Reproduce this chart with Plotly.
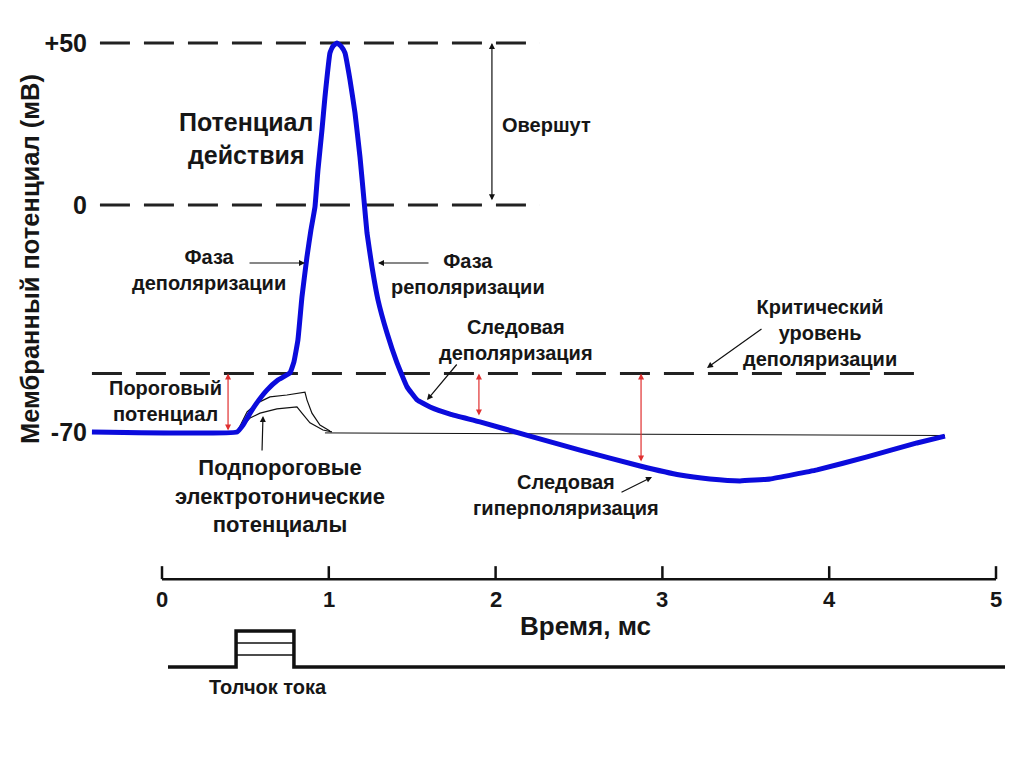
import plotly.graph_objects as go

# ---------------- data (time in ms, potential in mV) ----------------
ap_time = [-0.420, 0.450, 0.486, 0.528, 0.576, 0.629, 0.695, 0.767, 0.791, 0.815,
           0.839, 0.869, 0.893, 0.917, 0.935, 0.959, 0.977, 1.007, 1.025, 1.049,
           1.073, 1.097, 1.127, 1.157, 1.187, 1.211, 1.229, 1.259, 1.295, 1.349,
           1.409, 1.469, 1.529, 1.607, 1.727, 1.906, 2.206, 2.506, 2.866, 3.106,
           3.285, 3.465, 3.645, 3.927, 4.227, 4.526, 4.694]
ap_mv = [-70.0, -70.0, -67.9, -64.2, -60.5, -57.1, -54.0, -51.8, -48.4, -41.6,
         -28.4, -16.0, -7.7, -0.6, 10.8, 23.1, 33.3, 46.9, 49.0, 50.0,
         49.0, 46.9, 38.6, 28.4, 14.8, 1.5, -8.6, -19.1, -29.3, -39.5,
         -48.7, -56.1, -60.1, -62.3, -64.5, -66.9, -71.3, -75.6, -80.5, -83.3,
         -84.5, -85.1, -84.5, -81.7, -77.7, -73.4, -71.3]

sub_upper_time = [0.450, 0.468, 0.510, 0.570, 0.647, 0.749, 0.857, 0.869, 0.899, 0.947, 1.007]
sub_upper_mv = [-70.0, -68.2, -63.8, -61.1, -59.2, -58.6, -57.7, -60.1, -64.2, -67.9, -69.7]
sub_lower_time = [0.450, 0.468, 0.528, 0.588, 0.689, 0.809, 0.839, 0.887, 0.965, 1.019]
sub_lower_mv = [-70.0, -68.8, -65.7, -64.2, -62.9, -62.3, -64.2, -67.2, -69.4, -70.0]
rest_line_time = [0.977, 4.694]
rest_line_mv = [-70.3, -71.1]

overshoot_mv = 50
zero_mv = 0
threshold_mv = -52
rest_mv = -70
level_lines_time = [-0.372, 2.266]
threshold_line_time = [-0.420, 4.544]

ytick_vals = [50, 0, -70]
ytick_text = ["+50", "0", "-70"]
time_ticks = [0, 1, 2, 3, 4, 5]
time_axis_mv = -115.4      # where the time scale is drawn (below the trace)
time_tick_len_mv = 4.0

stim_time = [0.036, 0.444, 0.444, 0.791, 0.791, 5.054]
stim_level = [0, 0, 3, 3, 0, 0]
stim_inner_levels = [1, 2]
stim_on, stim_off = 0.444, 0.791

red_arrow_time = [0.396, 1.900, 2.872]
red_arrow_bottom = [-70.0, -65.4, -79.6]
overshoot_arrow_time = 1.978

# ---------------- geometry (window pixels -> figure) ----------------
OFF = 8                      # default page margin around the plot div
W, H = 1008, 751             # figure size
LEFT_WIN = 90                # left edge of plotting area in window pixels
LEFT = LEFT_WIN - OFF
X0_PX, PX_PER_MS = 162 - OFF, 166.8
Y0_PX, PX_PER_MV = 205 - OFF, 3.242
x_range = [(LEFT - X0_PX) / PX_PER_MS, (W - X0_PX) / PX_PER_MS]
y_range = [(Y0_PX - H) / PX_PER_MV, Y0_PX / PX_PER_MV]
STIM_BASE_PX, STIM_PX = 667 - OFF, 12
y2_range = [(STIM_BASE_PX - H) / STIM_PX, STIM_BASE_PX / STIM_PX]


def P(px, py):
    """window pixel -> paper coordinates"""
    return (px - OFF - LEFT) / (W - LEFT), 1 - (py - OFF) / H


TXT = "#161616"
FONT = "Liberation Sans"
BLUE = "#0b0bdc"
RED = "#e03030"
DASH = "30px,14px"

fig = go.Figure()

# dashed reference levels
for lvl in (overshoot_mv, zero_mv):
    fig.add_trace(go.Scatter(x=level_lines_time, y=[lvl, lvl], mode="lines",
                             line=dict(color="#222", width=3, dash=DASH),
                             hoverinfo="skip", showlegend=False))
fig.add_trace(go.Scatter(x=threshold_line_time, y=[threshold_mv, threshold_mv], mode="lines",
                         line=dict(color="#222", width=3, dash=DASH),
                         hoverinfo="skip", showlegend=False))

# thin baseline and subthreshold potentials
fig.add_trace(go.Scatter(x=rest_line_time, y=rest_line_mv, mode="lines",
                         line=dict(color="#111", width=1), hoverinfo="skip", showlegend=False))
fig.add_trace(go.Scatter(x=sub_upper_time, y=sub_upper_mv, mode="lines",
                         line=dict(color="#111", width=1.2), hoverinfo="skip", showlegend=False))
fig.add_trace(go.Scatter(x=sub_lower_time, y=sub_lower_mv, mode="lines",
                         line=dict(color="#111", width=1.2), hoverinfo="skip", showlegend=False))

# action potential
fig.add_trace(go.Scatter(x=ap_time, y=ap_mv, mode="lines",
                         line=dict(color=BLUE, width=5, shape="spline", smoothing=0.3),
                         hoverinfo="skip", showlegend=False))

# time scale: baseline + upward ticks
tx, ty = [time_ticks[0], time_ticks[-1], None], [time_axis_mv, time_axis_mv, None]
for t in time_ticks:
    tx += [t, t, None]
    ty += [time_axis_mv, time_axis_mv + time_tick_len_mv, None]
fig.add_trace(go.Scatter(x=tx, y=ty, mode="lines", line=dict(color="#111", width=2.5),
                         hoverinfo="skip", showlegend=False))

# stimulus trace
fig.add_trace(go.Scatter(x=stim_time, y=stim_level, mode="lines", yaxis="y2",
                         line=dict(color="#111", width=3.5), hoverinfo="skip", showlegend=False))
for lv in stim_inner_levels:
    fig.add_trace(go.Scatter(x=[stim_on, stim_off], y=[lv, lv], mode="lines", yaxis="y2",
                             line=dict(color="#111", width=1.5), hoverinfo="skip", showlegend=False))

annotations = []

# time tick labels
for t in time_ticks:
    annotations.append(dict(x=t, y=time_axis_mv, xref="x", yref="y", text=str(t),
                            showarrow=False, yanchor="top", yshift=-6,
                            font=dict(family=FONT, size=22, color=TXT, weight="bold")))

# red double arrows
for t, b in zip(red_arrow_time, red_arrow_bottom):
    annotations.append(dict(x=t, y=threshold_mv, ax=t, ay=b, xref="x", yref="y",
                            axref="x", ayref="y", text="", showarrow=True,
                            arrowhead=2, startarrowhead=2, arrowside="end+start",
                            arrowsize=1, arrowwidth=1.2, arrowcolor=RED,
                            standoff=0, startstandoff=0))
# overshoot double arrow
annotations.append(dict(x=overshoot_arrow_time, y=overshoot_mv, ax=overshoot_arrow_time, ay=zero_mv + 1,
                        xref="x", yref="y", axref="x", ayref="y", text="", showarrow=True,
                        arrowhead=2, startarrowhead=2, arrowside="end+start",
                        arrowsize=1, arrowwidth=1.2, arrowcolor="#111"))

# pointer arrows (tip, tail) in window pixels
pointers = [((305, 263), (248, 263)),
            ((378, 263), (430, 263)),
            ((427, 400), (458, 363)),
            ((707, 368), (763, 328)),
            ((652, 477), (620, 493)),
            ((263, 416), (262, 452))]
for (tx_, ty_), (sx, sy) in pointers:
    xp, yp = P(tx_, ty_)
    annotations.append(dict(x=xp, y=yp, xref="paper", yref="paper",
                            ax=sx - tx_, ay=sy - ty_, text="", showarrow=True,
                            arrowhead=2, arrowsize=1, arrowwidth=1.2, arrowcolor="#111"))

# text labels (window pixel centres)
texts = [
    ("Потенциал<br>действия", 246, 138, 25, "center"),
    ("Фаза<br>деполяризации", 209, 270, 20, "center"),
    ("Фаза<br>реполяризации", 468, 274, 20, "center"),
    ("Овершут", 500, 125, 20, "left"),
    ("Следовая<br>деполяризация", 516, 340, 20, "center"),
    ("Критический<br>уровень<br>деполяризации", 820, 333, 20, "center"),
    ("Пороговый<br>потенциал", 165, 401, 20, "center"),
    ("Подпороговые<br>электротонические<br>потенциалы", 280, 496, 22, "center"),
    ("Следовая<br>гиперполяризация", 566, 495, 20, "center"),
    ("Время, мс", 585, 626, 26, "center"),
    ("Толчок тока", 268, 687, 20, "center"),
]
for txt, px, py, sz, anc in texts:
    xp, yp = P(px, py)
    annotations.append(dict(x=xp, y=yp, xref="paper", yref="paper", text=txt,
                            showarrow=False, xanchor=anc, yanchor="middle", align="center",
                            font=dict(family=FONT, size=sz, color=TXT, weight="bold")))

xp, yp = P(30, 259)
annotations.append(dict(x=xp, y=yp, xref="paper", yref="paper", text="Мембранный потенциал (мВ)",
                        showarrow=False, textangle=-90, xanchor="center", yanchor="middle",
                        font=dict(family=FONT, size=25.5, color=TXT, weight="bold")))

fig.update_layout(
    width=W, height=H, autosize=False,
    margin=dict(l=LEFT, r=0, t=0, b=0),
    paper_bgcolor="white", plot_bgcolor="white",
    xaxis=dict(range=x_range, visible=False, fixedrange=True),
    yaxis=dict(range=y_range, showgrid=False, zeroline=False, showline=False, ticks="",
               tickvals=ytick_vals, ticktext=ytick_text, ticklabelstandoff=2,
               tickfont=dict(family=FONT, size=25, color=TXT, weight="bold"),
               fixedrange=True),
    yaxis2=dict(range=y2_range, overlaying="y", visible=False, fixedrange=True),
    annotations=annotations,
    showlegend=False,
)

fig.write_html("out.html")
